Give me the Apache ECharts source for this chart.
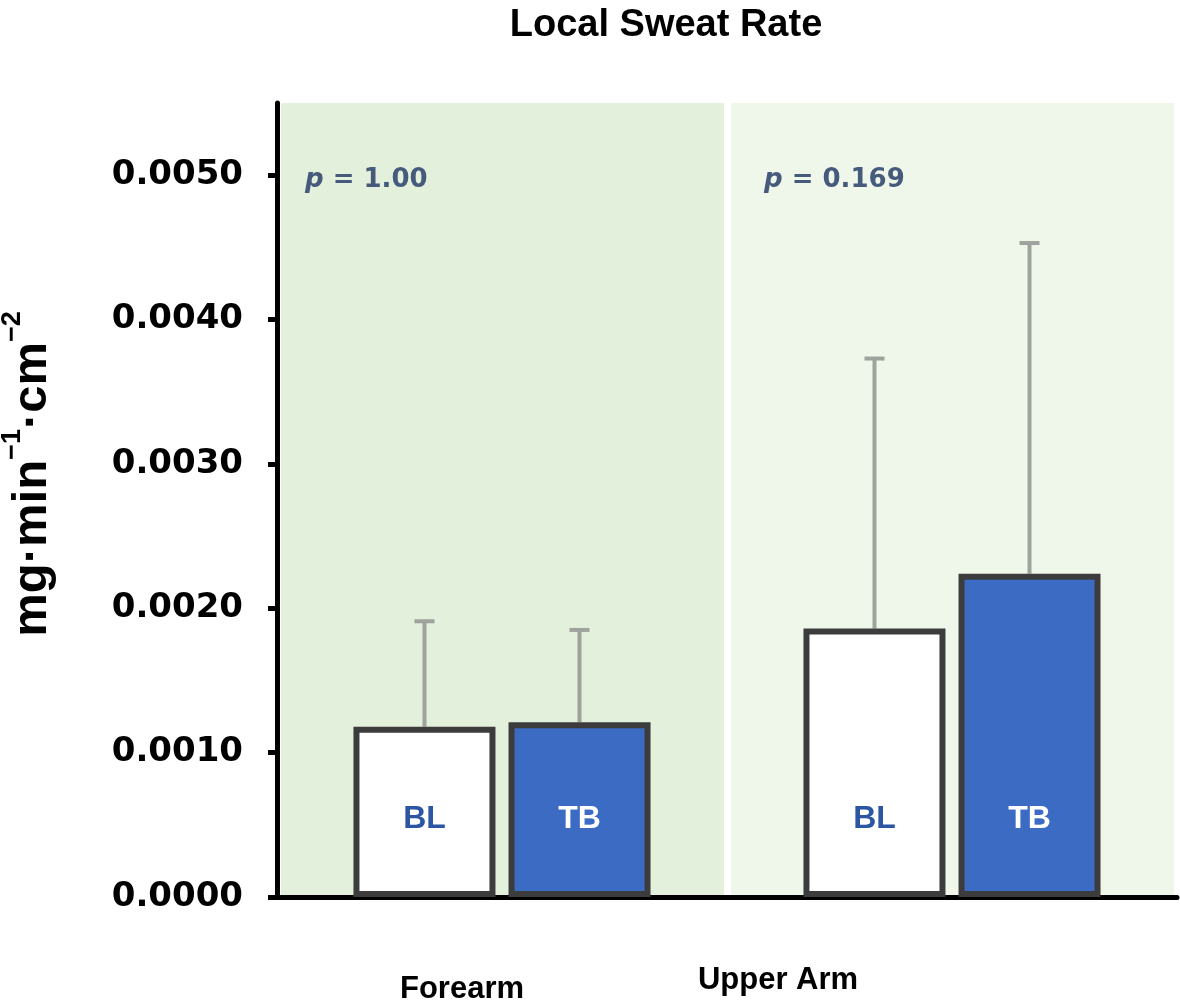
<!DOCTYPE html>
<html>
<head>
<meta charset="utf-8">
<script src="https://cdn.jsdelivr.net/npm/echarts@6/dist/echarts.min.js"></script>
<style>html,body{margin:0;padding:0;background:#fff}#c{width:1180px;height:1006px}</style>
</head>
<body>
<div id="c"></div>
<script>
const categories = ['Forearm', 'Upper Arm'];
const groupNames = ['BL', 'TB'];
const blMean = [0.00118, 0.00186];
const blSD = [0.00073, 0.00187];
const tbMean = [0.00121, 0.00224];
const tbSD = [0.00064, 0.00229];
const pValues = ['1.00', '0.169'];
const yTicks = [0, 0.001, 0.002, 0.003, 0.004, 0.005];

const BAR_W = 142, BAR_GAP_PX = 13;
const chart = echarts.init(document.getElementById('c'));

function errSeries(name, means, sds, sign) {
  return {
    type: 'custom', name: name + ' SD', z: 1,
    data: categories.map((c, i) => [i, means[i], means[i] + sds[i]]),
    encode: { x: 0, y: [1, 2] },
    renderItem: function (params, api) {
      const i = api.value(0);
      const b = api.coord([i, api.value(1)]);
      const t = api.coord([i, api.value(2)]);
      const x = b[0] + sign * (BAR_W + BAR_GAP_PX) / 2;
      const st = { stroke: '#9ea39e', lineWidth: 4 };
      return { type: 'group', children: [
        { type: 'line', shape: { x1: x, y1: b[1], x2: x, y2: t[1] }, style: st },
        { type: 'line', shape: { x1: x - 10, y1: t[1], x2: x + 10, y2: t[1] }, style: st }
      ]};
    }
  };
}

const font = '"Liberation Sans", Arial, sans-serif';
const pFont = '"DejaVu Sans", sans-serif';
const option = {
  animation: false,
  title: {
    text: 'Local Sweat Rate', left: 661, top: 2, textAlign: 'center',
    textStyle: { fontFamily: font, fontSize: 38, fontWeight: 'bold', color: '#000' }
  },
  grid: { left: 277, right: 3, top: 103, bottom: 109, containLabel: false, outerBoundsMode: 'none' },
  xAxis: {
    type: 'category', data: categories,
    axisLine: { lineStyle: { color: '#000', width: 5 } },
    axisTick: { show: false },
    splitArea: { show: true, areaStyle: { color: ['#e3f0dc', '#eff7eb'] } },
    splitLine: { show: true, lineStyle: { color: '#ffffff', width: 7 } },
    axisLabel: {
      margin: 68, interval: 0,
      formatter: function (v, i) { return i === 0 ? '{a|' + v + '}' : '{b|' + v + '}'; },
      rich: {
        a: { fontFamily: font, fontSize: 31, fontWeight: 'bold', color: '#000', padding: [9, 80, 0, 0] },
        b: { fontFamily: font, fontSize: 31, fontWeight: 'bold', color: '#000', padding: [0, 348, 0, 0] }
      }
    }
  },
  yAxis: {
    type: 'value', min: 0, max: 0.0055, interval: 0.001,
    name: '{m|mg·min}{s|−1}{m|·cm}{s|−2}',
    nameLocation: 'middle', nameGap: 220,
    nameTextStyle: {
      padding: [0, 0, 0, 52],
      rich: {
        m: { fontFamily: font, fontSize: 49, fontWeight: 'bold', color: '#000', lineHeight: 58, verticalAlign: 'bottom' },
        s: { fontFamily: font, fontSize: 27, fontWeight: 'bold', color: '#000', lineHeight: 58, verticalAlign: 'top' }
      }
    },
    axisLine: { show: true, lineStyle: { color: '#000', width: 5 } },
    axisTick: { show: true, length: 9, customValues: yTicks, lineStyle: { color: '#000', width: 5 } },
    axisLabel: {
      customValues: yTicks, margin: 34,
      fontFamily: pFont, fontSize: 34, fontWeight: 'bold', color: '#000',
      formatter: function (v) { return v.toFixed(4); }
    },
    splitLine: { show: false }
  },
  series: [
    {
      type: 'bar', name: groupNames[0], data: blMean, z: 2,
      barWidth: BAR_W, barGap: (BAR_GAP_PX / BAR_W * 100).toFixed(1) + '%',
      itemStyle: { color: '#ffffff', borderColor: '#3c3c3c', borderWidth: 6 },
      label: { show: true, position: 'insideBottom', distance: 62, formatter: groupNames[0],
        fontFamily: font, fontSize: 32, fontWeight: 'bold', color: '#2c55a3' }
    },
    {
      type: 'bar', name: groupNames[1], data: tbMean, z: 2,
      barWidth: BAR_W,
      itemStyle: { color: '#3b6bc2', borderColor: '#3c3c3c', borderWidth: 6 },
      label: { show: true, position: 'insideBottom', distance: 62, formatter: groupNames[1],
        fontFamily: font, fontSize: 32, fontWeight: 'bold', color: '#ffffff' }
    },
    errSeries('BL', blMean, blSD, -1),
    errSeries('TB', tbMean, tbSD, 1)
  ],
  graphic: [
    { type: 'text', left: 305, top: 167, z: 10, style: {
      text: '{i|p}{t| = ' + pValues[0] + '}',
      rich: { i: { fontFamily: pFont, fontSize: 26, fontWeight: 'bold', fontStyle: 'italic', fill: '#465a7c' },
              t: { fontFamily: pFont, fontSize: 26, fontWeight: 'bold', fill: '#465a7c' } } } },
    { type: 'text', left: 764, top: 167, z: 10, style: {
      text: '{i|p}{t| = ' + pValues[1] + '}',
      rich: { i: { fontFamily: pFont, fontSize: 26, fontWeight: 'bold', fontStyle: 'italic', fill: '#465a7c' },
              t: { fontFamily: pFont, fontSize: 26, fontWeight: 'bold', fill: '#465a7c' } } } }
  ]
};
chart.setOption(option);
</script>
</body>
</html>
